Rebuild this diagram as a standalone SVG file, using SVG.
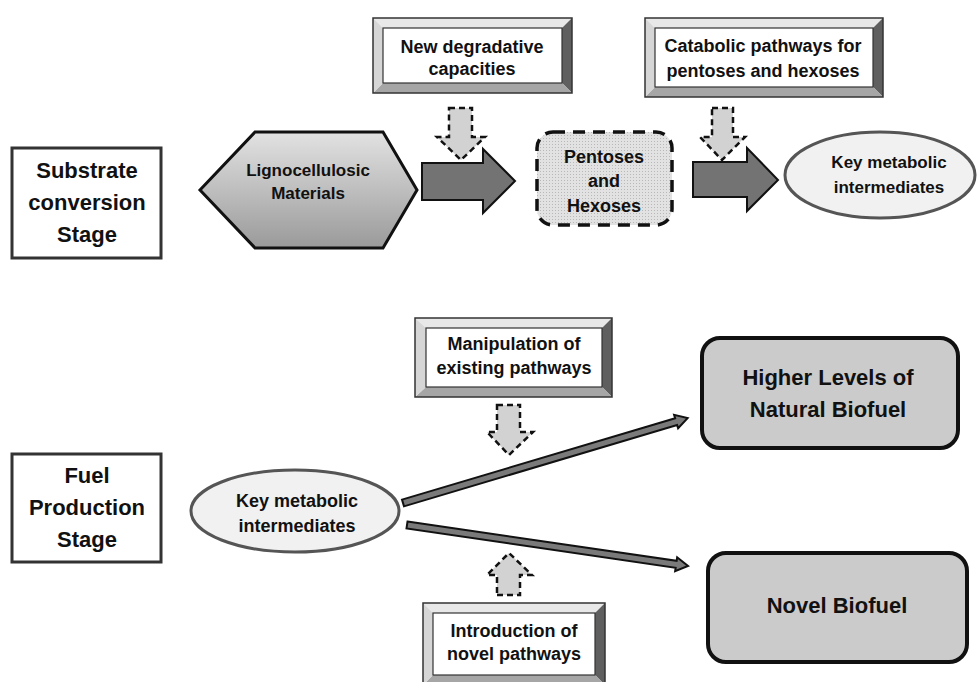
<svg xmlns="http://www.w3.org/2000/svg" width="978" height="682" viewBox="0 0 978 682">
  <defs>
    <linearGradient id="hexFill" x1="0" y1="0" x2="0" y2="1">
      <stop offset="0" stop-color="#e2e2e2"/>
      <stop offset="1" stop-color="#9a9a9a"/>
    </linearGradient>
    <pattern id="dots" width="3" height="3" patternUnits="userSpaceOnUse">
      <rect width="3" height="3" fill="#e2e2e2"/>
      <rect width="1" height="1" fill="#b8b8b8"/>
    </pattern>
  </defs>
  <style>
    text { font-family: "Liberation Sans", Arial, sans-serif; font-weight: bold; fill: #111; text-anchor: middle; }
    .t18 { font-size: 18px; }
    .t17 { font-size: 17px; }
    .t22 { font-size: 22px; }
    .stage { fill: #fff; stroke: #333; stroke-width: 3; }
    .bvTop { fill: #e8e8e8; }
    .bvLeft { fill: #d6d6d6; }
    .bvRight { fill: #5f5f5f; }
    .bvBottom { fill: #a6a6a6; }
    .bvOuter { fill: none; stroke: #333; stroke-width: 1.5; }
    .bvInner { fill: #fff; stroke: #333; stroke-width: 1.2; }
    .dashArrow { fill: #d2d2d2; stroke: #111; stroke-width: 2.5; stroke-dasharray: 6 4; stroke-linejoin: miter; }
    .bigArrow { fill: #737373; stroke: #111; stroke-width: 2; }
    .lineArrow { fill: #7a7a7a; stroke: #111; stroke-width: 2; stroke-linejoin: miter; }
    .ellipse { fill: #f1f1f1; stroke: #555; stroke-width: 3; }
    .fuelBox { fill: #cbcbcb; stroke: #111; stroke-width: 4; }
  </style>

  <rect width="978" height="682" fill="#fff"/>

  <!-- Stage labels -->
  <g id="stage-substrate">
    <rect class="stage" x="12" y="148" width="149" height="110"/>
    <text class="t22" x="87" y="178">Substrate</text>
    <text class="t22" x="87" y="210">conversion</text>
    <text class="t22" x="87" y="242">Stage</text>
  </g>
  <g id="stage-fuel">
    <rect class="stage" x="12" y="454" width="149" height="108"/>
    <text class="t22" x="87" y="483">Fuel</text>
    <text class="t22" x="87" y="515">Production</text>
    <text class="t22" x="87" y="547">Stage</text>
  </g>

  <!-- Bevelled annotation boxes -->
  <g id="new-degradative">
    <polygon class="bvTop" points="373,18 572,18 562,28 383,28"/>
    <polygon class="bvRight" points="572,18 572,93 562,83 562,28"/>
    <polygon class="bvBottom" points="572,93 373,93 383,83 562,83"/>
    <polygon class="bvLeft" points="373,93 373,18 383,28 383,83"/>
    <rect class="bvOuter" x="373" y="18" width="199" height="75"/>
    <rect class="bvInner" x="383" y="28" width="179" height="55"/>
    <text class="t18" x="472" y="53">New degradative</text>
    <text class="t18" x="472" y="75">capacities</text>
  </g>
  <g id="catabolic">
    <polygon class="bvTop" points="645,18 883,18 873,28 655,28"/>
    <polygon class="bvRight" points="883,18 883,97 873,87 873,28"/>
    <polygon class="bvBottom" points="883,97 645,97 655,87 873,87"/>
    <polygon class="bvLeft" points="645,97 645,18 655,28 655,87"/>
    <rect class="bvOuter" x="645" y="18" width="238" height="79"/>
    <rect class="bvInner" x="655" y="28" width="218" height="59"/>
    <text class="t18" x="763" y="52">Catabolic pathways for</text>
    <text class="t18" x="763" y="77">pentoses and hexoses</text>
  </g>
  <g id="manipulation">
    <polygon class="bvTop" points="415,318 612,318 602,328 426,328"/>
    <polygon class="bvRight" points="612,318 612,397 602,387 602,328"/>
    <polygon class="bvBottom" points="612,397 415,397 426,387 602,387"/>
    <polygon class="bvLeft" points="415,397 415,318 426,328 426,387"/>
    <rect class="bvOuter" x="415" y="318" width="197" height="79"/>
    <rect class="bvInner" x="426" y="328" width="176" height="59"/>
    <text class="t18" x="514" y="350">Manipulation of</text>
    <text class="t18" x="514" y="374">existing pathways</text>
  </g>
  <g id="introduction">
    <polygon class="bvTop" points="423,603 605,603 595,613 433,613"/>
    <polygon class="bvRight" points="605,603 605,685 595,675 595,613"/>
    <polygon class="bvBottom" points="605,685 423,685 433,675 595,675"/>
    <polygon class="bvLeft" points="423,685 423,603 433,613 433,675"/>
    <rect class="bvOuter" x="423" y="603" width="182" height="82"/>
    <rect class="bvInner" x="433" y="613" width="162" height="62"/>
    <text class="t18" x="514" y="637">Introduction of</text>
    <text class="t18" x="514" y="660">novel pathways</text>
  </g>

  <!-- Substrate conversion nodes -->
  <g id="lignocellulosic">
    <polygon points="200,190 255,132 383,132 417,190 383,248 255,248" fill="url(#hexFill)" stroke="#111" stroke-width="3"/>
    <text class="t17" x="308" y="176">Lignocellulosic</text>
    <text class="t17" x="308" y="199">Materials</text>
  </g>
  <g id="sugars">
    <rect x="537" y="132" width="135" height="93" rx="16" fill="url(#dots)" stroke="#111" stroke-width="3.5" stroke-dasharray="12 8"/>
    <text class="t18" x="604" y="163">Pentoses</text>
    <text class="t18" x="604" y="187">and</text>
    <text class="t18" x="604" y="212">Hexoses</text>
  </g>
  <g id="intermediates-top">
    <ellipse class="ellipse" cx="880" cy="175" rx="95" ry="43"/>
    <text class="t17" x="889" y="168">Key metabolic</text>
    <text class="t17" x="889" y="193">intermediates</text>
  </g>

  <!-- Fuel production nodes -->
  <g id="intermediates-bottom">
    <ellipse class="ellipse" cx="295" cy="511" rx="104" ry="41"/>
    <text class="t18" x="297" y="507">Key metabolic</text>
    <text class="t18" x="297" y="532">intermediates</text>
  </g>
  <g id="natural-biofuel">
    <rect class="fuelBox" x="702" y="338" width="256" height="110" rx="18"/>
    <text class="t22" x="828" y="385">Higher Levels of</text>
    <text class="t22" x="828" y="417">Natural Biofuel</text>
  </g>
  <g id="novel-biofuel">
    <rect class="fuelBox" x="708" y="553" width="259" height="109" rx="18"/>
    <text class="t22" x="837" y="613">Novel Biofuel</text>
  </g>

  <!-- Connectors -->
  <g id="connectors">
    <!-- block arrows between substrate stages -->
    <polygon class="bigArrow" points="422,163 483,163 483,149 515,181 483,213 483,200 422,200"/>
    <polygon class="bigArrow" points="693,162 747,162 747,148 778,180 747,211 747,197 693,197"/>
    <!-- dashed influence arrows -->
    <polygon class="dashArrow" points="449,108 472,108 472,137 485,137 461,160 437,137 449,137"/>
    <polygon class="dashArrow" points="712,108 733,108 733,137 745,137 722,160 700,137 712,137"/>
    <polygon class="dashArrow" points="497,405 520,405 520,432 533,432 509,455 487,432 497,432"/>
    <polygon class="dashArrow" points="497,595 520,595 520,575 532,575 509,553 487,575 497,575"/>
    <!-- thin arrows to the fuel products -->
    <path class="lineArrow" transform="translate(403,503) rotate(-16.6)" d="M0,-3.5 L285,-3.5 L285,-7 L297,0 L285,7 L285,3.5 L0,3.5 Z"/>
    <path class="lineArrow" transform="translate(407,525) rotate(8.3)" d="M0,-3.5 L272,-3.5 L272,-7 L284,0 L272,7 L272,3.5 L0,3.5 Z"/>
  </g>
</svg>
